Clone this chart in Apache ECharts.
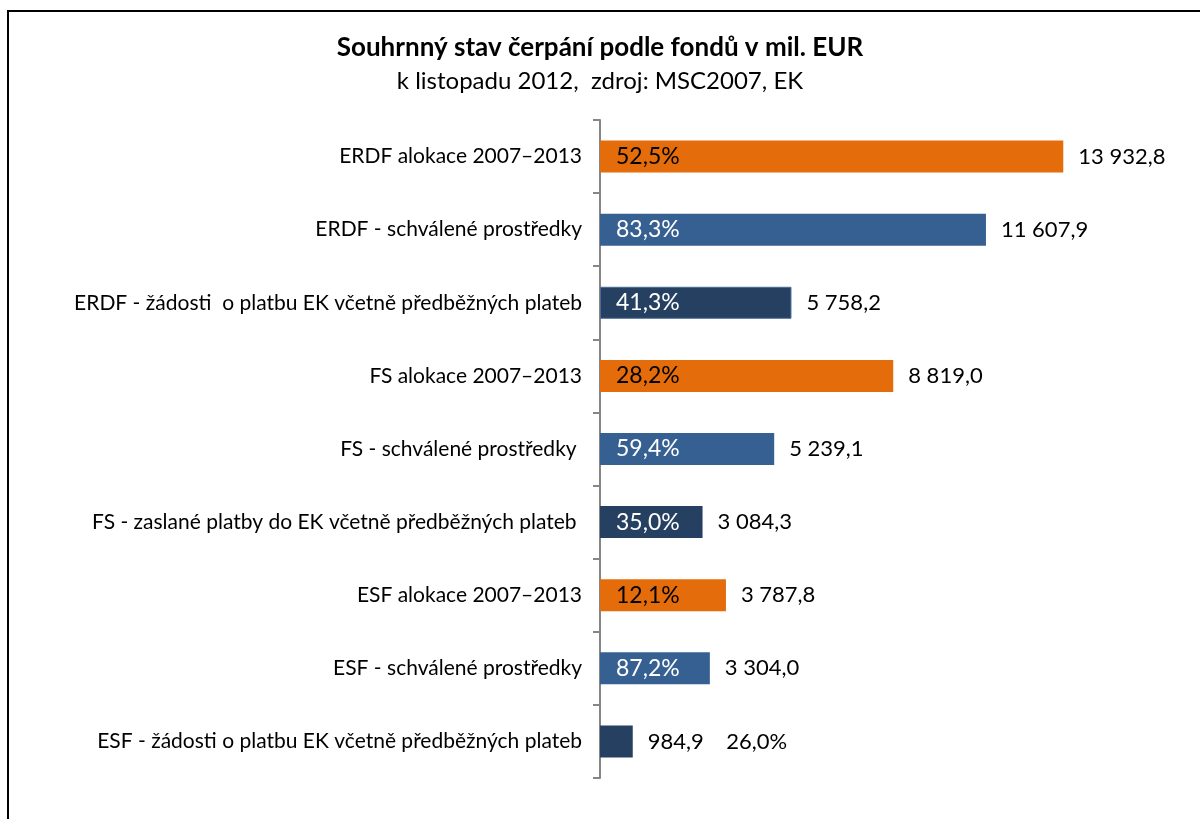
<!DOCTYPE html>
<html>
<head>
<meta charset="utf-8">
<script src="https://cdn.jsdelivr.net/npm/echarts@6/dist/echarts.min.js"></script>
<style>
  html, body { margin: 0; padding: 0; background: #fff; }
  #frame {
    position: absolute; left: 7px; top: 10px; width: 1200px; height: 820px;
    border-top: 2px solid #000; border-left: 2px solid #000;
  }
  #chart { position: absolute; left: 0; top: 0; width: 1200px; height: 819px; }
</style>
</head>
<body>
<div id="frame"></div>
<div id="chart"></div>
<script>
// categories, top to bottom
const categories = [
  'ERDF alokace 2007–2013',
  'ERDF - schválené prostředky',
  'ERDF - žádosti  o platbu EK včetně předběžných plateb',
  'FS alokace 2007–2013',
  'FS - schválené prostředky ',
  'FS - zaslané platby do EK včetně předběžných plateb ',
  'ESF alokace 2007–2013',
  'ESF - schválené prostředky',
  'ESF - žádosti o platbu EK včetně předběžných plateb'
];
// mil. EUR
const values = [13932.8, 11607.9, 5758.2, 8819.0, 5239.1, 3084.3, 3787.8, 3304.0, 984.9];
// share labels
const shares = ['52,5%', '83,3%', '41,3%', '28,2%', '59,4%', '35,0%', '12,1%', '87,2%', '26,0%'];
// 0 = alokace, 1 = schválené, 2 = žádosti/platby
const kinds = [0, 1, 2, 0, 1, 2, 0, 1, 2];

const colors = ['#E46C0A', '#376092', '#254061'];
const shareText = ['#000', '#fff', '#fff'];
const FONT = 'Lato, "Open Sans", sans-serif';

function fmt(v) {
  const parts = v.toFixed(1).split('.');
  parts[0] = parts[0].replace(/\B(?=(\d{3})+(?!\d))/g, ' ');
  return parts.join(',');
}

const chart = echarts.init(document.getElementById('chart'));
chart.setOption({
  animation: false,
  title: {
    text: 'Souhrnný stav čerpání podle fondů v mil. EUR',
    subtext: 'k listopadu 2012,  zdroj: MSC2007, EK',
    left: 'center',
    top: 30,
    itemGap: 8,
    textStyle: { fontFamily: FONT, fontSize: 26, fontWeight: 'bold', color: '#000' },
    subtextStyle: { fontFamily: FONT, fontSize: 24, color: '#000' }
  },
  grid: { left: 600, right: 68, top: 120, bottom: 41 },
  xAxis: {
    type: 'value', min: 0, max: 16000,
    show: false
  },
  yAxis: {
    type: 'category',
    inverse: true,
    data: categories,
    axisLine: { lineStyle: { color: '#868686', width: 2 } },
    axisTick: { show: true, length: 7, lineStyle: { color: '#868686', width: 2 } },
    axisLabel: { fontFamily: FONT, fontSize: 21, color: '#000', margin: 18 }
  },
  series: [
    {
      type: 'bar',
      barWidth: 32,
      data: values.map((v, i) => ({
        value: v,
        itemStyle: {
          color: colors[kinds[i]],
          borderColor: i === 2 ? '#4A6C96' : colors[kinds[i]],
          borderWidth: i === 2 ? 1 : 0
        },
        label: i === values.length - 1
          ? { formatter: fmt(v) + '    ' + shares[i] }
          : {}
      })),
      label: {
        show: true,
        position: 'right',
        distance: 15,
        fontFamily: FONT,
        fontSize: 22,
        color: '#000',
        formatter: p => fmt(p.value)
      }
    },
    {
      type: 'bar',
      barWidth: 32,
      barGap: '-100%',
      silent: true,
      itemStyle: { color: 'transparent' },
      data: values.map((v, i) => ({
        value: v,
        label: {
          show: i !== values.length - 1,
          color: shareText[kinds[i]]
        }
      })),
      label: {
        position: 'insideLeft',
        distance: 16,
        fontFamily: FONT,
        fontSize: 23,
        formatter: p => shares[p.dataIndex]
      }
    }
  ]
});
</script>
</body>
</html>
